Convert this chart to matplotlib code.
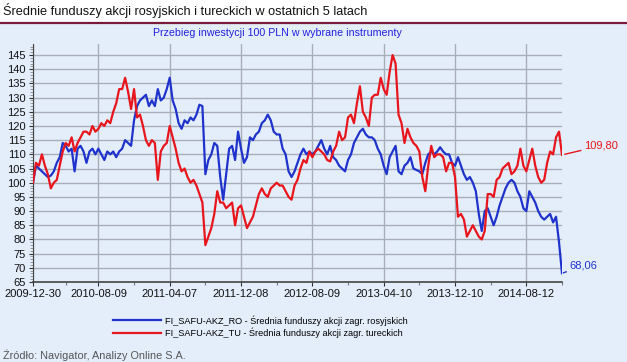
import matplotlib
matplotlib.use("Agg")
import matplotlib.pyplot as plt
from matplotlib.ticker import MultipleLocator, FixedLocator

plt.rcParams["font.family"] = ["Liberation Sans", "DejaVu Sans"]

# values, one point per ~3 px
ro = [100, 106, 105, 104, 103, 102, 102.5, 104, 107, 109,
      114, 113, 111, 112, 104, 112, 113, 111, 107, 111,
      112, 110, 112, 110, 108, 111, 110, 111, 109, 111,
      112, 115, 114, 113, 122, 127, 129, 130, 131, 127,
      129, 127, 133, 129, 130, 133, 137, 129, 126, 121,
      119, 122, 121, 123, 122, 124, 127.5, 127, 103, 108,
      110, 114, 113, 102, 94, 103, 112, 113, 108, 118,
      112, 107, 109, 116, 115, 117, 118, 121, 122, 124,
      122, 118, 117, 117, 112, 110, 104, 102, 104, 107,
      110, 112, 110, 111, 110, 111, 113, 115, 112, 110,
      113, 109, 108, 106, 105, 104, 108, 110, 114, 116,
      118, 119, 117, 116, 116, 115, 112, 110, 106, 103,
      109, 111, 113, 104, 103, 106, 107, 109, 105, 104.5,
      104, 103, 107, 110, 111, 110, 111, 112.5, 111, 110,
      110, 107, 106, 109, 106, 103, 101, 102, 100, 97,
      89, 83, 90, 91, 88, 85, 88, 92, 95, 98,
      100, 101, 100, 97, 95, 91, 90, 97, 95, 93,
      90, 88, 87, 88, 89, 86, 88, 79, 68.06]

tu = [100, 107, 106, 110, 106, 103, 98, 100, 101, 106,
      111, 114, 113, 116, 111, 114, 116, 118, 118, 117,
      120, 118, 119, 121, 120, 122, 121, 125, 128, 133,
      133, 137, 132, 126, 133, 123, 124, 120, 115, 113,
      115, 114, 101, 111, 113, 114, 120, 116, 112, 107,
      104, 105, 102, 100, 101, 99, 96, 93, 78, 81,
      84, 89, 97, 93, 93, 91, 92, 93, 85, 91,
      92, 88, 84, 86, 88, 92, 96, 98, 96, 95,
      98, 99, 100, 99, 99, 97, 95, 94, 99, 101,
      105, 108, 107, 111, 109, 111, 112, 111, 110, 108,
      107.5, 111, 113, 118, 115, 116, 123, 124, 121, 128,
      134, 125, 123, 120, 130, 131, 131, 137, 133, 131,
      139, 145, 142, 124, 121, 114, 119, 116, 114, 113,
      111, 102, 97, 106, 113, 109, 110, 110, 109, 104,
      107, 107, 102, 88, 89, 87, 81, 83, 85, 83,
      81, 80, 83, 96, 96, 95, 101, 102, 105, 106,
      107, 103, 104, 106, 112, 106, 104, 108, 112, 106,
      102, 100, 101, 107, 111, 110, 116, 118, 109.8]

tick_pos = [0, 22, 46, 70, 94, 118, 142, 166]
tick_labels = ["2009-12-30", "2010-08-09", "2011-04-07", "2011-12-08",
               "2012-08-09", "2013-04-10", "2013-12-10", "2014-08-12"]
minor_pos = [11, 34, 58, 82, 106, 130, 154, 178]

name_ro = "FI_SAFU-AKZ_RO - Średnia funduszy akcji zagr. rosyjskich"
name_tu = "FI_SAFU-AKZ_TU - Średnia funduszy akcji zagr. tureckich"

BG = "#e4eefb"
BLUE = "#1f33cc"
RED = "#e8161c"

fig = plt.figure(figsize=(6.27, 3.62), dpi=100, facecolor=BG)

# white title strip with maroon rule
fig.patches.append(plt.Rectangle((0, 1 - 22 / 362), 1, 22 / 362, transform=fig.transFigure,
                                 facecolor="white", edgecolor="none", zorder=0))
fig.lines.append(plt.Line2D([0, 1], [1 - 22.5 / 362] * 2, transform=fig.transFigure,
                            color="#7a1a3a", linewidth=1.6))
fig.text(3 / 627, 1 - 11 / 362, "Średnie funduszy akcji rosyjskich i tureckich w ostatnich 5 latach",
         fontsize=9.15, va="center", ha="left", color="#111111")
fig.text(277 / 627, 1 - 33 / 362, "Przebieg inwestycji 100 PLN w wybrane instrumenty",
         fontsize=7.7, va="center", ha="center", color="#2222dd")

ax = fig.add_axes([33 / 627, 80 / 362, 529 / 627, 238 / 362])
ax.set_facecolor(BG)
x = list(range(len(ro)))
ax.plot(x, ro, color=BLUE, linewidth=1.6, zorder=3, label=name_ro)
ax.plot(range(len(tu)), tu, color=RED, linewidth=1.6, zorder=3, label=name_tu)

ax.set_xlim(0, len(ro) - 1)
ax.set_ylim(65, 148.9)
ax.yaxis.set_major_locator(FixedLocator(list(range(65, 146, 5))))
ax.yaxis.set_minor_locator(MultipleLocator(1))
ax.xaxis.set_major_locator(FixedLocator(tick_pos))
ax.xaxis.set_minor_locator(FixedLocator(minor_pos))
ax.set_xticklabels(tick_labels)
ax.tick_params(axis="both", labelsize=8, colors="#333333", labelcolor="#111111", width=0.8)
ax.tick_params(axis="x", which="major", length=3, pad=2)
ax.tick_params(axis="x", which="minor", length=2, width=0.8, color="#777777")
ax.tick_params(axis="y", which="major", length=3, pad=2)
ax.tick_params(axis="y", which="minor", length=2, width=0.5, color="#777777")
ax.grid(True, which="major", color="#a8aeb8", linewidth=1.0, zorder=1)
for s in ["top", "right"]:
    ax.spines[s].set_visible(False)
ax.spines["left"].set_color("#444444")
ax.spines["bottom"].set_color("#444444")
ax.spines["bottom"].set_linewidth(1.2)

# end value labels
ax.annotate("109,80", xy=(x[-1], tu[-1]), xytext=(x[-1] + 7.3, 113), color=RED,
            fontsize=8, va="center", ha="left", annotation_clip=False,
            arrowprops=dict(arrowstyle="-", color=RED, lw=1.0, shrinkA=0, shrinkB=2))
ax.annotate("68,06", xy=(x[-1], ro[-1]), xytext=(x[-1] + 2.4, 70.7), color=BLUE,
            fontsize=8, va="center", ha="left", annotation_clip=False,
            arrowprops=dict(arrowstyle="-", color=BLUE, lw=1.0, shrinkA=0, shrinkB=1))

leg = fig.legend(loc="upper left", bbox_to_anchor=(113 / 627, 1 - 315 / 362), frameon=False,
                 fontsize=6.55, handlelength=5.3, handletextpad=0.45, labelspacing=0.25,
                 borderaxespad=0, borderpad=0)

fig.text(3 / 627, 1 - 355 / 362, "Źródło: Navigator, Analizy Online S.A.",
         fontsize=7.8, va="center", ha="left", color="#555555")

plt.savefig("out.png", dpi=100, facecolor=BG)
plt.close()
